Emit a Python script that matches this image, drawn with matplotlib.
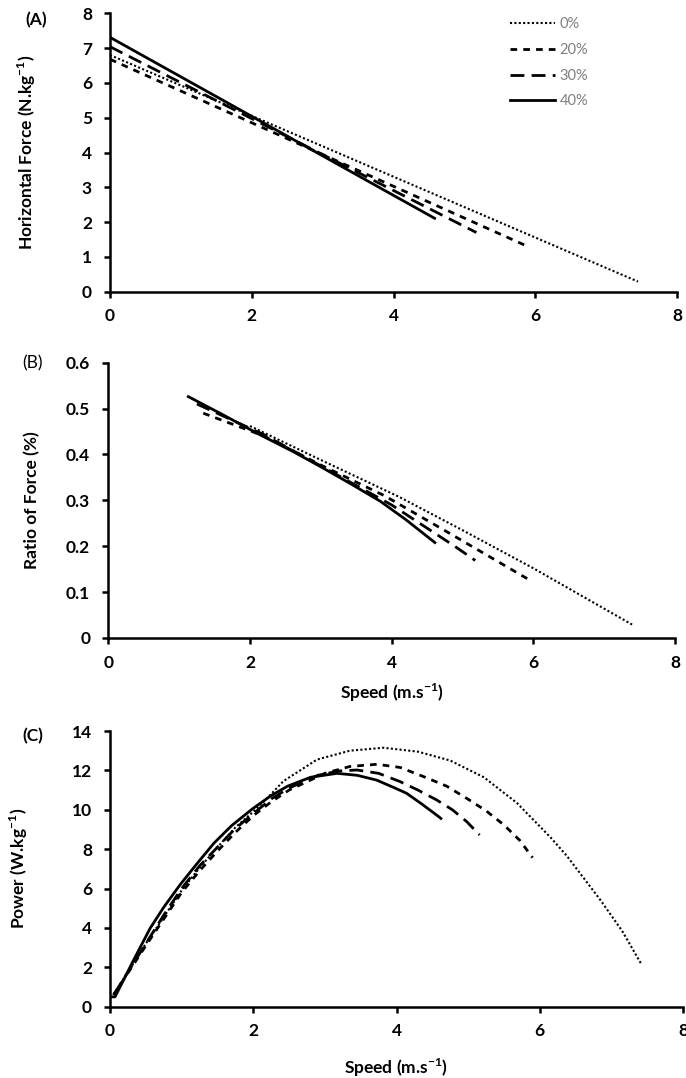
import matplotlib
matplotlib.use("Agg")
import matplotlib.pyplot as plt
from matplotlib.ticker import FormatStrFormatter, MultipleLocator

plt.rcParams['font.family'] = ['Lato', 'DejaVu Sans']
plt.rcParams['font.weight'] = 'bold'
plt.rcParams['mathtext.fontset'] = 'custom'
plt.rcParams['mathtext.rm'] = 'Lato:bold'
plt.rcParams['mathtext.bf'] = 'Lato:bold'

labels = ["0%", "20%", "30%", "40%"]

# (A) horizontal force vs speed
force_v = {
    "0%": [0.0, 7.45],
    "20%": [0.0, 5.85],
    "30%": [0.0, 5.17],
    "40%": [0.0, 4.58],
}
force_f = {
    "0%": [6.80, 0.29],
    "20%": [6.68, 1.34],
    "30%": [7.04, 1.70],
    "40%": [7.31, 2.11],
}

# (B) ratio of force vs speed
ratio_v = {
    "0%": [2.0, 3.0, 4.1, 5.0, 6.0, 7.42],
    "20%": [1.34, 2.2, 3.0, 3.9, 4.73, 5.94],
    "30%": [1.25, 2.2, 3.0, 4.0, 4.89, 5.18],
    "40%": [1.13, 1.6, 2.14, 2.6, 2.99, 3.4, 3.84, 4.2, 4.61],
}
ratio_r = {
    "0%": [0.462, 0.388, 0.308, 0.235, 0.152, 0.027],
    "20%": [0.490, 0.440, 0.377, 0.310, 0.236, 0.127],
    "30%": [0.510, 0.443, 0.375, 0.290, 0.200, 0.169],
    "40%": [0.526, 0.488, 0.443, 0.407, 0.374, 0.338, 0.298, 0.258, 0.208],
}

# (C) power vs speed
power_v = {
    "0%": [0.05, 0.5, 0.75, 1.0, 1.25, 1.5, 1.75, 2.0, 2.25, 2.42, 2.89, 3.35, 3.82,
           4.3, 4.75, 5.22, 5.68, 6.15, 6.38, 6.84, 7.15, 7.42],
    "20%": [0.05, 0.5, 0.75, 1.0, 1.25, 1.5, 1.75, 2.0, 2.25, 2.5, 3.0, 3.35, 3.73,
            4.05, 4.38, 4.7, 4.98, 5.25, 5.5, 5.72, 5.9],
    "30%": [0.05, 0.5, 0.75, 1.0, 1.25, 1.5, 1.75, 2.0, 2.25, 2.5, 2.9, 3.2, 3.45,
            3.75, 4.05, 4.3, 4.56, 4.78, 4.98, 5.16],
    "40%": [0.0, 0.07, 0.33, 0.56, 0.75, 0.98, 1.2, 1.45, 1.7, 1.99, 2.25, 2.48, 2.8,
            3.17, 3.45, 3.72, 3.95, 4.14, 4.35, 4.59, 4.62],
}
power_p = {
    "0%": [0.6, 3.2, 4.55, 5.9, 7.05, 8.1, 9.1, 9.9, 10.8, 11.45, 12.55, 13.0, 13.15,
           12.95, 12.5, 11.65, 10.35, 8.6, 7.65, 5.45, 3.85, 2.15],
    "20%": [0.6, 3.1, 4.45, 5.8, 6.9, 7.9, 8.85, 9.7, 10.4, 11.0, 11.85, 12.2, 12.31,
            12.15, 11.68, 11.2, 10.58, 9.95, 9.23, 8.45, 7.57],
    "30%": [0.6, 3.2, 4.65, 6.0, 7.15, 8.1, 9.05, 9.8, 10.55, 11.1, 11.75, 11.97, 12.02,
            11.85, 11.43, 11.0, 10.5, 10.0, 9.4, 8.72],
    "40%": [0.5, 0.5, 2.37, 3.98, 5.05, 6.2, 7.2, 8.3, 9.2, 10.05, 10.72, 11.2, 11.65,
            11.85, 11.75, 11.51, 11.15, 10.84, 10.3, 9.65, 9.56],
}

styles = {
    "0%": dict(lw=1.5, dashes=(1, 1.1)),
    "20%": dict(lw=2.0, dashes=(2.4, 2.2)),
    "30%": dict(lw=2.0, dashes=(5.0, 2.6)),
    "40%": dict(lw=2.0),
}

W, H = 686, 1078
fig = plt.figure(figsize=(W / 100, H / 100), dpi=100)


def box(left, right, top, bottom):
    return [left / W, 1 - bottom / H, (right - left) / W, (bottom - top) / H]


axA = fig.add_axes(box(110, 677, 13.3, 291.7))
axB = fig.add_axes(box(108.3, 675, 362.7, 638))
axC = fig.add_axes(box(110, 683, 731, 1006.7))

for lab in labels:
    axA.plot(force_v[lab], force_f[lab], color="black", label=lab, **styles[lab])
    axB.plot(ratio_v[lab], ratio_r[lab], color="black", **styles[lab])
    axC.plot(power_v[lab], power_p[lab], color="black", **styles[lab])

axA.set_ylim(0, 8)
axA.yaxis.set_major_locator(MultipleLocator(1))
axB.set_ylim(0, 0.6)
axB.yaxis.set_major_locator(MultipleLocator(0.1))
axB.yaxis.set_major_formatter(FormatStrFormatter("%g"))
axC.set_ylim(0, 14)
axC.yaxis.set_major_locator(MultipleLocator(2))

for ax in (axA, axB, axC):
    ax.set_xlim(0, 8)
    ax.xaxis.set_major_locator(MultipleLocator(2))
    for s in ("top", "right"):
        ax.spines[s].set_visible(False)
    for s in ("left", "bottom"):
        ax.spines[s].set_linewidth(1.8)
    ax.tick_params(width=1.8, length=4, labelsize=12.5)
    ax.tick_params(axis="x", pad=8)
    ax.tick_params(axis="y", pad=9)

lab_kw = dict(fontsize=12.5, fontweight="bold")
axA.set_ylabel(r"Horizontal Force (N.kg$^{-1}$)", **lab_kw)
axA.yaxis.set_label_coords(-0.127, 0.5)
axB.set_ylabel("Ratio of Force (%)", **lab_kw)
axB.yaxis.set_label_coords(-0.12, 0.5)
axC.set_ylabel(r"Power (W.kg$^{-1}$)", **lab_kw)
axC.yaxis.set_label_coords(-0.14, 0.5)
axB.set_xlabel(r"Speed (m.s$^{-1}$)", **lab_kw)
axB.xaxis.set_label_coords(0.5, -0.16)
axC.set_xlabel(r"Speed (m.s$^{-1}$)", **lab_kw)
axC.xaxis.set_label_coords(0.5, -0.182)

fig.text(25 / W, 1 - 20 / H, "(A)", fontsize=12.5, fontweight="bold", va="center", ha="left")
fig.text(22 / W, 1 - 363 / H, "(B)", fontsize=12.5, fontweight="normal", va="center", ha="left")
fig.text(22 / W, 1 - 736 / H, "(C)", fontsize=12.5, fontweight="bold", va="center", ha="left")

leg = axA.legend(loc="upper left", bbox_to_anchor=(0.705, 0.985), frameon=False,
                 prop=dict(family="Lato", weight="normal", size=10.5),
                 handlelength=3.1, handletextpad=0.3,
                 labelspacing=0.8, borderpad=0, borderaxespad=0)
for t in leg.get_texts():
    t.set_color("#7f7f7f")

fig.savefig("out.png", dpi=100)
